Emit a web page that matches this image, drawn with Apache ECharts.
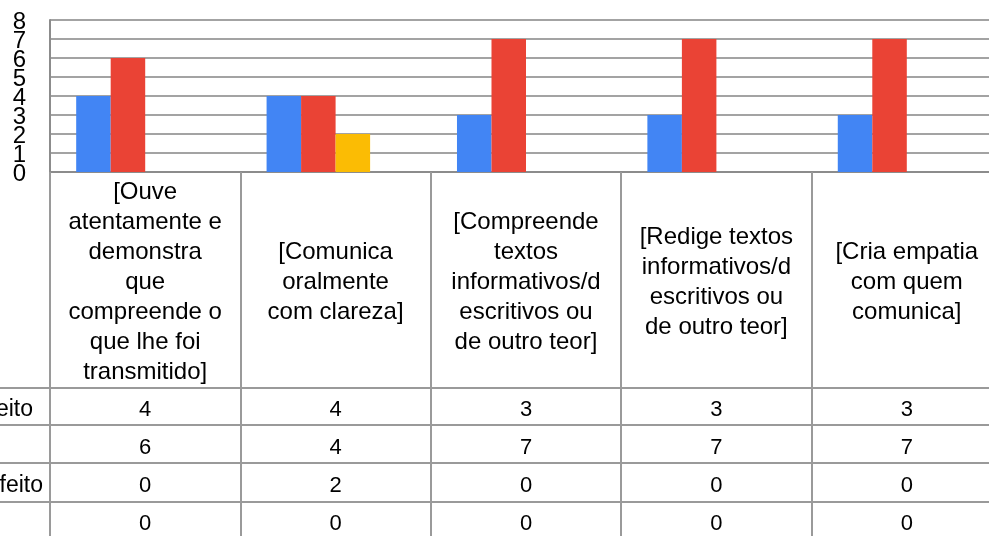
<!DOCTYPE html>
<html>
<head>
<meta charset="utf-8">
<script src="https://cdn.jsdelivr.net/npm/echarts@6/dist/echarts.min.js"></script>
<style>
    html, body {margin: 0; padding: 0; background: #fff;}
    #chart {width: 989px; height: 536px;}
</style>
</head>
<body>
<div id="chart"></div>
<script>
var categories = [
    '[Ouve\natentamente e\ndemonstra\nque\ncompreende o\nque lhe foi\ntransmitido]',
    '[Comunica\noralmente\ncom clareza]',
    '[Compreende\ntextos\ninformativos/d\nescritivos ou\nde outro teor]',
    '[Redige textos\ninformativos/d\nescritivos ou\nde outro teor]',
    '[Cria empatia\ncom quem\ncomunica]'
];
var rowLabels = ['Satisfeito', 'Bom', 'Insatisfeito', 'Mau'];
var row1 = [4, 4, 3, 3, 3];
var row2 = [6, 4, 7, 7, 7];
var row3 = [0, 2, 0, 0, 0];
var row4 = [0, 0, 0, 0, 0];
var rows = [row1, row2, row3, row4];
var yTicks = [0, 1, 2, 3, 4, 5, 6, 7, 8];
var colors = ['#4285F4', '#EA4335', '#FBBC04', '#34A853'];

var font = '"Liberation Sans", Arial, sans-serif';
var myChart = echarts.init(document.getElementById('chart'));

var series = [];
rows.forEach(function (v, k) {
    series.push({
        name: rowLabels[k],
        type: 'bar',
        data: v,
        barGap: 0,
        barCategoryGap: '27.5%',
        itemStyle: {color: colors[k]}
    });
});

var option = {
    animation: false,
    grid: {left: 50, top: 20, width: 952, height: 152, outerBoundsMode: 'none', containLabel: false},
    xAxis: {
        type: 'category',
        data: categories,
        axisLine: {show: true, lineStyle: {color: '#8c8c8c', width: 2}},
        axisTick: {show: true, length: 370, lineStyle: {color: '#9a9a9a', width: 2}},
        axisLabel: {
            interval: 0,
            margin: 110,
            verticalAlign: 'middle',
            color: '#000',
            fontFamily: font,
            fontSize: 24,
            lineHeight: 30
        }
    },
    yAxis: {
        type: 'value',
        min: yTicks[0],
        max: yTicks[yTicks.length - 1],
        interval: 1,
        axisLine: {show: true, lineStyle: {color: '#8c8c8c', width: 2}},
        axisTick: {show: false},
        axisLabel: {show: false},
        splitLine: {lineStyle: {color: '#a3a3a3', width: 2}}
    },
    series: series
};
myChart.setOption(option);

var graphic = [];

// value axis labels (drawn by hand so that the tight ones are not hidden)
yTicks.forEach(function (t) {
    var py = myChart.convertToPixel({yAxisIndex: 0}, t);
    graphic.push({
        type: 'text',
        x: 26,
        y: py + 2,
        style: {text: String(t), font: '24px ' + font, fill: '#000', textAlign: 'right', textVerticalAlign: 'middle'}
    });
});

// data table under the chart
var rowLines = [388, 425, 463, 502];
var rowCenters = [410, 448, 486, 524];
var labelRight = [33, -4, 43, -4];
rowLines.forEach(function (y) {
    graphic.push({
        type: 'line',
        shape: {x1: 0, y1: y, x2: 989, y2: y},
        style: {stroke: '#9a9a9a', lineWidth: 2},
        silent: true
    });
});
rows.forEach(function (v, r) {
    graphic.push({
        type: 'text',
        x: labelRight[r],
        y: rowCenters[r],
        style: {text: rowLabels[r], font: '23px ' + font, fill: '#000', textAlign: 'right', textVerticalAlign: 'middle'}
    });
    v.forEach(function (val, i) {
        var px = myChart.convertToPixel({xAxisIndex: 0}, i);
        graphic.push({
            type: 'text',
            x: px,
            y: rowCenters[r],
            style: {text: String(val), font: '22px ' + font, fill: '#000', textAlign: 'center', textVerticalAlign: 'middle'}
        });
    });
});
myChart.setOption({graphic: graphic});
</script>
</body>
</html>
